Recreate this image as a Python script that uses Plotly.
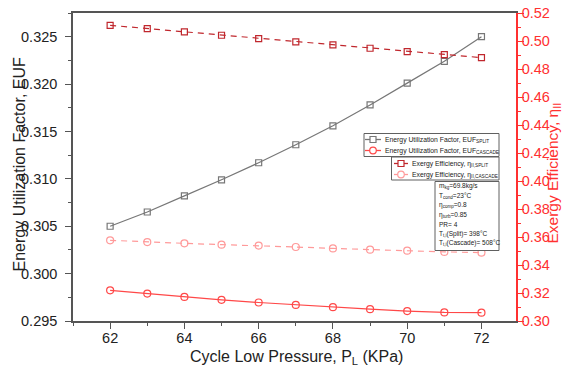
import plotly.graph_objects as go

pressure = [62, 63, 64, 65, 66, 67, 68, 69, 70, 71, 72]
euf_split = [0.3050, 0.3065, 0.3082, 0.3099, 0.3117, 0.3136, 0.3156, 0.3178, 0.3201, 0.3224, 0.3250]
euf_cascade = [0.29824, 0.29789, 0.29754, 0.29723, 0.29695, 0.29670, 0.29646, 0.29625, 0.29605, 0.29591, 0.29588]
ex_split = [0.5114, 0.5091, 0.5067, 0.5043, 0.5019, 0.4996, 0.4974, 0.4950, 0.4926, 0.4905, 0.4883]
ex_cascade = [0.3577, 0.3564, 0.3555, 0.3546, 0.3539, 0.3529, 0.3519, 0.3510, 0.3503, 0.3494, 0.3489]

series_names = [
    "Energy Utilization Factor, EUF<sub>SPLIT</sub>",
    "Energy Utilization Factor, EUF<sub>CASCADE</sub>",
    "Exergy Efficiency, η<sub>II,SPLIT</sub>",
    "Exergy Efficiency, η<sub>II,CASCADE</sub>",
]
info_lines = [
    "m<sub>kg</sub>=69.8kg/s",
    "T<sub>cond</sub>=23°C",
    "η<sub>comp</sub>=0.8",
    "η<sub>turb</sub>=0.85",
    "PR= 4",
    "T<sub>t,i</sub>(Split)= 398°C",
    "T<sub>t,i</sub>(Cascade)= 508°C",
]
x_title = "Cycle Low Pressure, P<sub>L</sub> (KPa)"
y_title = "Energy Utilization Factor, EUF"
y2_title = "Exergy Efficiency, η<sub>II</sub>"

FONT = "Liberation Sans, Arial, sans-serif"
GRAY = "#777777"
RED = "#ff4848"
DARKRED = "#c0272d"
PINK = "#ff9a9a"
AXRED = "#ff3030"
BOX = "#606060"
TXT = "#222"

W, H = 565, 376
ML, MR, MT, MB = 73, 49, 13, 55
# plot area in screen pixels
PX0, PY0 = ML, MT
PW, PH = W - ML - MR, H - MT - MB


def xp(px):
    return (px - PX0) / PW


def yp(py):
    return (PY0 + PH - py) / PH


fig = go.Figure()
styles = [
    dict(color=GRAY, dash="solid", symbol="square-open", size=6, y=euf_split, axis="y"),
    dict(color=RED, dash="solid", symbol="circle-open", size=7, y=euf_cascade, axis="y"),
    dict(color=DARKRED, dash="6px,5px", symbol="square-open", size=6, y=ex_split, axis="y2"),
    dict(color=PINK, dash="6px,5px", symbol="circle-open", size=7, y=ex_cascade, axis="y2"),
]
for name, st in zip(series_names, styles):
    fig.add_trace(go.Scatter(
        x=pressure, y=st["y"], mode="lines+markers", yaxis=st["axis"], name=name,
        line=dict(color=st["color"], width=1.2, dash=st["dash"]),
        marker=dict(symbol=st["symbol"], size=st["size"], color=st["color"], line=dict(width=1.2)),
        showlegend=False))

shapes = []
annotations = []


def box(x0, x1, y0, y1):
    shapes.append(dict(type="rect", xref="paper", yref="paper",
                       x0=xp(x0), x1=xp(x1), y0=yp(y1), y1=yp(y0),
                       line=dict(color=BOX, width=1), fillcolor="white", layer="above"))


def legend_entry(lx0, lx1, ly, tx, text, color, kind):
    shapes.append(dict(type="line", xref="paper", yref="paper",
                       x0=xp(lx0), x1=xp(lx1), y0=yp(ly), y1=yp(ly),
                       line=dict(color=color, width=1.3), layer="above"))
    cx = (lx0 + lx1) / 2
    r = 3 if kind == "rect" else 3.3
    shapes.append(dict(type=kind, xref="paper", yref="paper",
                       xsizemode="pixel", ysizemode="pixel",
                       xanchor=xp(cx), yanchor=yp(ly), x0=-r, x1=r, y0=-r, y1=r,
                       line=dict(color=color, width=1.2), fillcolor="white", layer="above"))
    annotations.append(dict(xref="paper", yref="paper", x=xp(tx), y=yp(ly),
                            xanchor="left", yanchor="middle", text=text, showarrow=False,
                            font=dict(family=FONT, size=6.8, color=TXT)))


# legend 1
box(364, 499, 133.5, 156.5)
legend_entry(365, 381, 139.5, 382.5, series_names[0], GRAY, "rect")
legend_entry(365, 381, 150.5, 382.5, series_names[1], RED, "circle")
# legend 2
box(391.5, 499, 157, 180)
legend_entry(394, 408, 163.5, 409.5, series_names[2], DARKRED, "rect")
legend_entry(394, 408, 174.5, 409.5, series_names[3], PINK, "circle")
# info box
box(435, 499, 181.5, 250.5)
for i, line in enumerate(info_lines):
    annotations.append(dict(xref="paper", yref="paper", x=xp(436.5), y=yp(186.3 + i * 9.45),
                            xanchor="left", yanchor="middle", text=line, showarrow=False,
                            font=dict(family=FONT, size=6.5, color=TXT)))

# axis titles as annotations for exact placement
annotations.append(dict(xref="paper", yref="paper", x=xp(296), y=yp(357),
                        xanchor="center", yanchor="middle", text=x_title, showarrow=False,
                        borderpad=0, font=dict(family=FONT, size=16, color=TXT)))
annotations.append(dict(xref="paper", yref="paper", x=xp(19), y=yp(164.5),
                        xanchor="center", yanchor="middle", text=y_title, showarrow=False,
                        borderpad=0, textangle=-90, font=dict(family=FONT, size=16, color=TXT)))
annotations.append(dict(xref="paper", yref="paper", x=xp(553), y=yp(173.5),
                        xanchor="center", yanchor="middle", text=y2_title, showarrow=False,
                        borderpad=0, textangle=-90, font=dict(family=FONT, size=15.5, color=AXRED)))

fig.update_layout(
    width=W, height=H,
    margin=dict(l=ML, r=MR, t=MT, b=MB),
    paper_bgcolor="white", plot_bgcolor="white",
    font=dict(family=FONT, size=13, color=TXT),
    showlegend=False,
    shapes=shapes, annotations=annotations,
    xaxis=dict(
        range=[61.0, 72.93], dtick=2, tick0=62, automargin=False,
        showline=True, linecolor="#555", linewidth=1.5, mirror=True,
        ticks="outside", ticklen=6, tickcolor="#555", tickwidth=1,
        minor=dict(ticks="outside", ticklen=3, dtick=1, tick0=62, tickcolor="#555"),
        showgrid=False, zeroline=False, ticklabelstandoff=-3,
        tickfont=dict(size=14.5, color=TXT),
    ),
    yaxis=dict(
        range=[0.295, 0.3275], dtick=0.005, tick0=0.295, tickformat=".3f", automargin=False,
        showline=True, linecolor="#555", linewidth=1.5,
        ticks="outside", ticklen=6, tickcolor="#555", tickwidth=1,
        minor=dict(ticks="outside", ticklen=3, dtick=0.0025, tick0=0.295, tickcolor="#555"),
        showgrid=False, zeroline=False, ticklabelstandoff=5,
        tickfont=dict(size=14.5, color=TXT),
    ),
    yaxis2=dict(
        range=[0.30, 0.5202], dtick=0.02, tick0=0.30, tickformat=".2f", automargin=False,
        overlaying="y", side="right", ticklabeloverflow="allow",
        showline=True, linecolor=AXRED, linewidth=1.5,
        ticks="outside", ticklen=6, tickcolor=AXRED, tickwidth=1,
        minor=dict(ticks="outside", ticklen=3, dtick=0.01, tick0=0.30, tickcolor=AXRED),
        showgrid=False, zeroline=False, ticklabelstandoff=-5,
        tickfont=dict(size=14.5, color=AXRED),
    ),
)

# remove the default 8px page margin so the figure fills the window exactly
fig.write_html("out.html", config={"displayModeBar": False},
               post_script="document.body.style.margin='0';")
